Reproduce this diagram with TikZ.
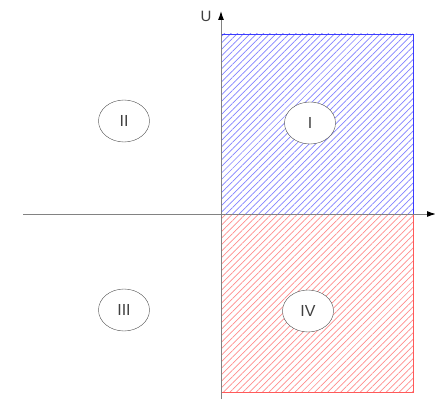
\documentclass[tikz,border=0pt]{standalone}
\usepackage{fontspec}
\setmainfont{Liberation Sans}
\usetikzlibrary{patterns.meta,arrows.meta,shapes.geometric}
\definecolor{axisgray}{RGB}{130,130,130}
\definecolor{qblue}{RGB}{60,60,255}
\definecolor{hblue}{RGB}{130,130,255}
\definecolor{qred}{RGB}{255,90,90}
\definecolor{hred}{RGB}{255,140,140}
\tikzset{
  axis/.style={draw=axisgray, line width=1pt, -{Latex[black,length=9pt,width=6pt]}},
  quadrant/.style={ellipse, draw=black!70, fill=white, minimum width=51pt, minimum height=42pt, inner sep=0pt, font=\fontsize{16}{16}\selectfont, text=black!75},
  lbl/.style={font=\fontsize{15}{15}\selectfont, text=black!75},
}
\begin{document}
\begin{tikzpicture}[x=1pt,y=-1pt]
\useasboundingbox (0,0) rectangle (435,401);
% hatched regions
\fill[pattern={Lines[angle=45,distance=4.6pt,line width=0.7pt]}, pattern color=hblue] (221,34) rectangle (413,214);
\fill[pattern={Lines[angle=45,distance=4.6pt,line width=0.7pt]}, pattern color=hred] (221,214) rectangle (413,392);
\draw[qblue, line width=0.8pt] (221,214) -- (221,34) -- (413,34) -- (413,214);
\draw[qred, line width=0.8pt] (221,214) -- (221,392) -- (413,392) -- (413,214) -- cycle;
% axes
\coordinate (xs) at (23,214);
\coordinate (xe) at (436,214);
\coordinate (ys) at (221,399);
\coordinate (ye) at (221,11);
\draw[axis] (xs) -- (xe);
\draw[axis] (ys) -- (ye);
\node[lbl] (U) at (206,16) {U};
% quadrant labels
\node[quadrant] (q1) at (310,123) {I};
\node[quadrant] (q2) at (124,121) {II};
\node[quadrant] (q3) at (124,310) {III};
\node[quadrant] (q4) at (308,311) {IV};
\end{tikzpicture}
\end{document}
